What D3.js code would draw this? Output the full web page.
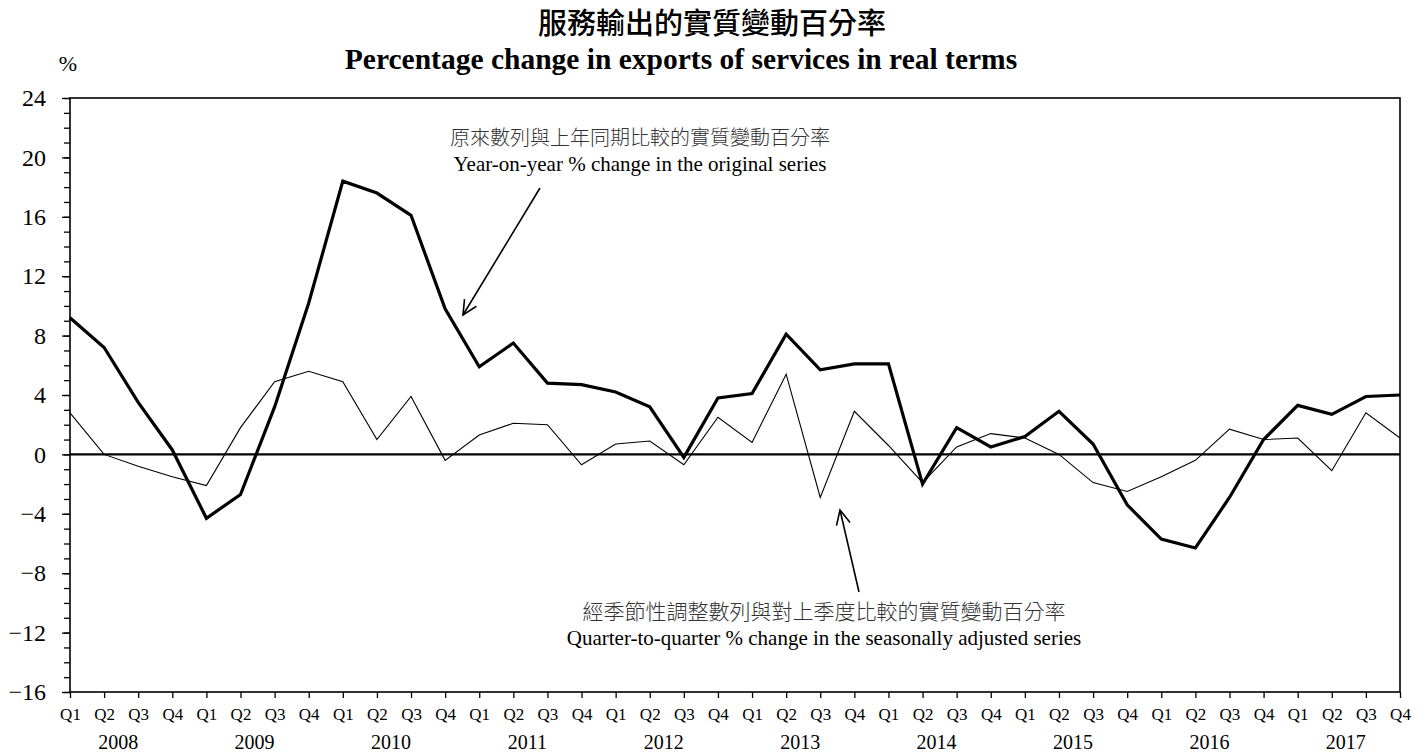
<!DOCTYPE html>
<html>
<head>
<meta charset="utf-8">
<script src="https://cdn.jsdelivr.net/npm/d3@7"></script>
<style>
  html, body { margin: 0; padding: 0; background: #fff; }
  #chart { width: 1427px; height: 754px; }
  .serif { font-family: "Liberation Serif", "Times New Roman", serif; }
  .cjk { font-family: "Noto Sans CJK TC", "Noto Sans CJK SC", sans-serif; }
</style>
</head>
<body>
<div id="chart"></div>
<script>
const years = ["2008", "2009", "2010", "2011", "2012", "2013", "2014", "2015", "2016", "2017"];
const quarterNames = ["Q1", "Q2", "Q3", "Q4"];

// year-on-year % change, original series (thick line)
const yoyValues = [
  9.2, 7.2, 3.5, 0.3,
  -4.3, -2.7, 3.2, 10.2,
  18.4, 17.6, 16.1, 9.8,
  5.9, 7.5, 4.8, 4.7,
  4.2, 3.2, -0.2, 3.8,
  4.1, 8.1, 5.7, 6.1,
  6.1, -2.0, 1.8, 0.5,
  1.2, 2.9, 0.7, -3.4,
  -5.7, -6.3, -2.9, 1.0,
  3.3, 2.7, 3.9, 4.0,
];

// quarter-to-quarter % change, seasonally adjusted series (thin line)
const qoqValues = [
  2.8, 0.0, -0.8, -1.5,
  -2.1, 1.8, 4.9, 5.6,
  4.9, 1.0, 3.9, -0.4,
  1.3, 2.1, 2.0, -0.7,
  0.7, 0.9, -0.7, 2.5,
  0.8, 5.4, -2.9, 2.9,
  0.6, -1.9, 0.5, 1.4,
  1.1, 0.0, -1.9, -2.5,
  -1.5, -0.4, 1.7, 1.0,
  1.1, -1.1, 2.8, 1.1,
];

const yTicks = [24, 20, 16, 12, 8, 4, 0, -4, -8, -12, -16];

const title = "服務輸出的實質變動百分率";
const subtitle = "Percentage change in exports of services in real terms";
const yoyLabel = ["原來數列與上年同期比較的實質變動百分率", "Year-on-year % change in the original series"];
const qoqLabel = ["經季節性調整數列與對上季度比較的實質變動百分率", "Quarter-to-quarter % change in the seasonally adjusted series"];

const width = 1427;
const height = 754;
const margin = { top: 98, right: 27, bottom: 62, left: 70 };

const quarters = years.flatMap((y) => quarterNames.map((q) => `${y}-${q}`));

const svg = d3.select("#chart")
  .append("svg")
  .attr("width", width)
  .attr("height", height);

const x = d3.scalePoint()
  .domain(quarters)
  .range([margin.left, width - margin.right]);

const y = d3.scaleLinear()
  .domain([-16, 24])
  .range([height - margin.bottom, margin.top]);

// title
svg.append("text")
  .attr("class", "cjk")
  .attr("x", 712)
  .attr("y", 34)
  .attr("text-anchor", "middle")
  .attr("font-size", 29)
  .attr("font-weight", 500)
  .text(title);

svg.append("text")
  .attr("class", "serif")
  .attr("x", 681)
  .attr("y", 69)
  .attr("text-anchor", "middle")
  .attr("font-size", 29.5)
  .attr("font-weight", 700)
  .text(subtitle);

svg.append("text")
  .attr("class", "serif")
  .attr("x", 68)
  .attr("y", 71)
  .attr("text-anchor", "middle")
  .attr("font-size", 22)
  .text("%");

// y axis: minor ticks every 1, labelled ticks every 4
svg.append("g")
  .attr("transform", `translate(${margin.left},0)`)
  .call(d3.axisLeft(y).tickValues(d3.range(-16, 25, 1)).tickSize(6).tickFormat(""))
  .call((g) => g.select(".domain").remove())
  .call((g) => g.selectAll("line").attr("stroke", "#000").attr("stroke-width", 1.3));

svg.append("g")
  .attr("transform", `translate(${margin.left},0)`)
  .call(d3.axisLeft(y).tickValues(yTicks).tickSize(8).tickPadding(16).tickFormat(d3.format("d")))
  .call((g) => g.select(".domain").remove())
  .call((g) => g.selectAll("line").attr("stroke", "#000").attr("stroke-width", 1.3))
  .call((g) => g.selectAll("text")
    .attr("class", "serif")
    .attr("font-size", 24)
    .attr("fill", "#000"));

// x axis: quarter ticks
svg.append("g")
  .attr("transform", `translate(0,${height - margin.bottom})`)
  .call(d3.axisBottom(x).tickSize(6).tickPadding(10).tickFormat((d) => d.split("-")[1]))
  .call((g) => g.select(".domain").remove())
  .call((g) => g.selectAll("line").attr("stroke", "#000").attr("stroke-width", 1.3))
  .call((g) => g.selectAll("text")
    .attr("class", "serif")
    .attr("font-size", 17)
    .attr("fill", "#000"));

svg.append("g")
  .selectAll("text")
  .data(years)
  .join("text")
  .attr("class", "serif")
  .attr("x", (d) => (x(`${d}-Q2`) + x(`${d}-Q3`)) / 2 - 3)
  .attr("y", 749)
  .attr("text-anchor", "middle")
  .attr("font-size", 20)
  .text((d) => d);

// frame
svg.append("rect")
  .attr("x", margin.left)
  .attr("y", margin.top)
  .attr("width", width - margin.left - margin.right)
  .attr("height", height - margin.top - margin.bottom)
  .attr("fill", "none")
  .attr("stroke", "#000")
  .attr("stroke-width", 1.6);

// zero line
svg.append("line")
  .attr("x1", margin.left)
  .attr("x2", width - margin.right)
  .attr("y1", y(0))
  .attr("y2", y(0))
  .attr("stroke", "#000")
  .attr("stroke-width", 2.2);

const line = d3.line()
  .x((d, i) => x(quarters[i]))
  .y((d) => y(d));

svg.append("path")
  .datum(qoqValues)
  .attr("fill", "none")
  .attr("stroke", "#000")
  .attr("stroke-width", 1.1)
  .attr("d", line);

svg.append("path")
  .datum(yoyValues)
  .attr("fill", "none")
  .attr("stroke", "#000")
  .attr("stroke-width", 3.2)
  .attr("d", line);

// annotations
function addLabel(lines, cx, cy, sizes) {
  svg.append("text")
    .attr("class", "cjk")
    .attr("x", cx)
    .attr("y", cy)
    .attr("text-anchor", "middle")
    .attr("font-size", sizes[0])
    .attr("font-weight", 300)
    .attr("fill", "#333")
    .text(lines[0]);
  svg.append("text")
    .attr("class", "serif")
    .attr("x", cx)
    .attr("y", cy + 26)
    .attr("text-anchor", "middle")
    .attr("font-size", sizes[1])
    .attr("fill", "#000")
    .text(lines[1]);
}

function addArrow(x1, y1, x2, y2) {
  const angle = Math.atan2(y2 - y1, x2 - x1);
  const head = 16;
  const spread = 0.45;
  svg.append("line")
    .attr("x1", x1).attr("y1", y1)
    .attr("x2", x2).attr("y2", y2)
    .attr("stroke", "#000")
    .attr("stroke-width", 1.6);
  svg.append("path")
    .attr("d", d3.line()([
      [x2 - head * Math.cos(angle - spread), y2 - head * Math.sin(angle - spread)],
      [x2, y2],
      [x2 - head * Math.cos(angle + spread), y2 - head * Math.sin(angle + spread)],
    ]))
    .attr("fill", "none")
    .attr("stroke", "#000")
    .attr("stroke-width", 1.6);
}

addLabel(yoyLabel, 640, 145, [20, 21]);
addArrow(540, 188, 463, 315);

addLabel(qoqLabel, 824, 619, [21, 21]);
addArrow(859, 592, 840, 510);
</script>
</body>
</html>
